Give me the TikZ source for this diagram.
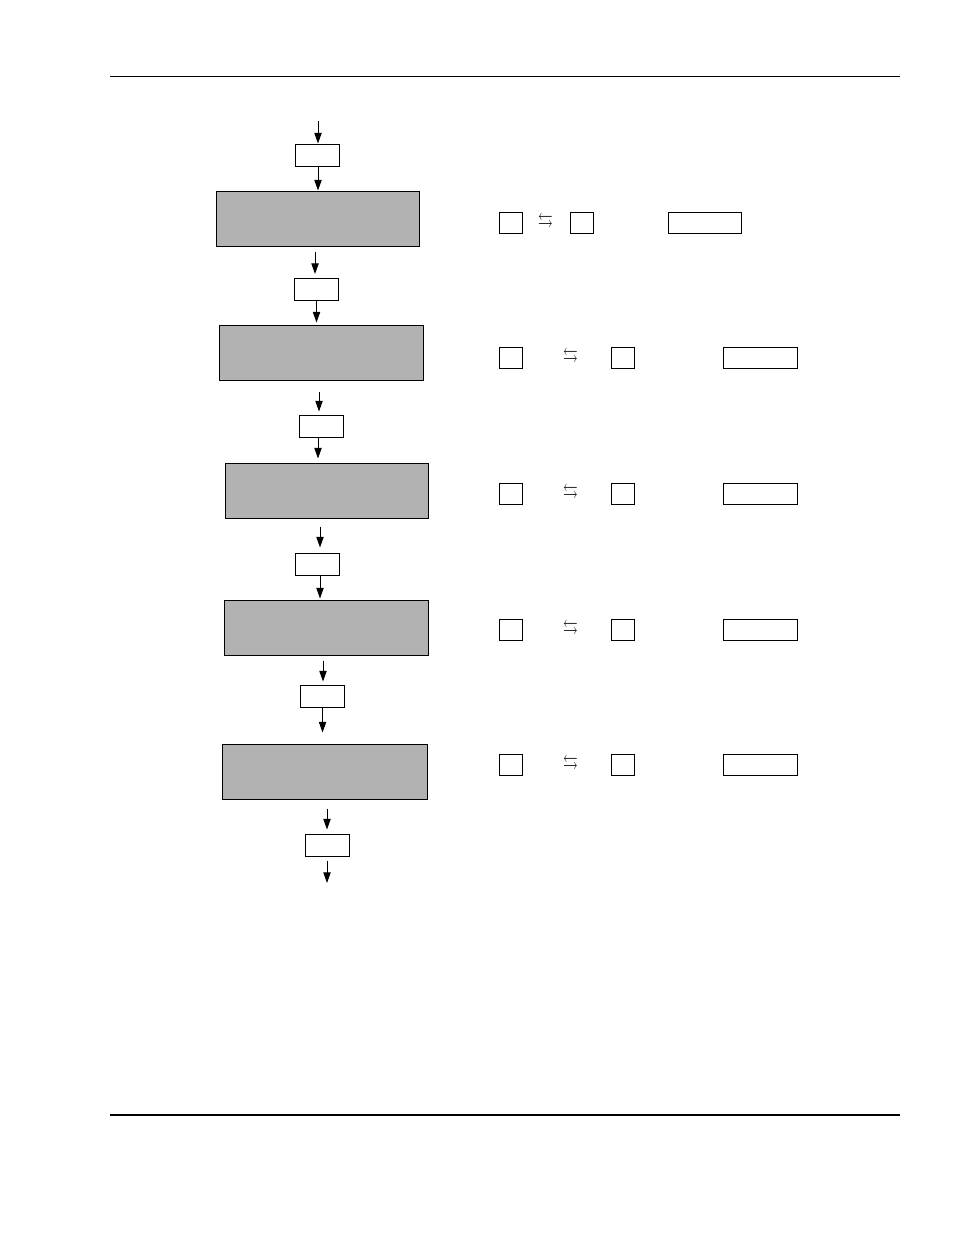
\documentclass[tikz,border=0pt]{standalone}
\usepackage{amssymb}
\usetikzlibrary{arrows.meta}
\begin{document}
\begin{tikzpicture}[x=0.75pt,y=-0.75pt,
  graybox/.style={draw,line width=0.75pt,fill=black!30,minimum width=152.5pt,minimum height=41.25pt,inner sep=0pt},
  stepbox/.style={draw,line width=0.75pt,fill=white,minimum width=33pt,minimum height=16.5pt,inner sep=0pt},
  keybox/.style={draw,line width=0.75pt,minimum width=17.25pt,minimum height=15.75pt,inner sep=0pt},
  fieldbox/.style={draw,line width=0.75pt,minimum width=55pt,minimum height=15.75pt,inner sep=0pt},
  swapsym/.style={inner sep=0pt,font=\fontsize{11}{13}\selectfont},
  arr/.style={draw,line width=0.75pt,-{Triangle[length=8pt,width=5.5pt]}},
  rule/.style={line width=0.75pt}
]
\path[fill=white,use as bounding box] (0,0) rectangle (954,1235);

% header / footer rules
\coordinate (hl) at (110,76);
\coordinate (hr) at (900,76);
\coordinate (fl) at (110,1114.5);
\coordinate (fr) at (900,1114.5);
\draw[rule] (hl) -- (hr);
\draw[line width=1.5pt] (fl) -- (fr);

% flow column
\node[stepbox] (S1) at (317,155) {};
\node[graybox,minimum width=152.25pt] (G1) at (317.5,218.5) {};
\node[stepbox] (S2) at (316.5,289.5) {};
\node[graybox,minimum width=153pt] (G2) at (321,352.5) {};
\node[stepbox] (S3) at (321,426) {};
\node[graybox,minimum width=152.25pt] (G3) at (326.5,490.5) {};
\node[stepbox] (S4) at (317,564) {};
\node[graybox,minimum width=153pt] (G4) at (326,627.5) {};
\node[stepbox] (S5) at (322,696) {};
\node[graybox,minimum width=153.75pt] (G5) at (324.5,771.5) {};
\node[stepbox] (S6) at (327,845) {};

\coordinate (in) at (318,121);
\coordinate (out) at (327,883);

\draw[arr] (in) -- (in |- S1.north);
\draw[arr] ([xshift=0.75pt]S1.south) -- ([xshift=0.75pt]S1.south |- G1.north);
\draw[arr,shorten <=3.75pt,shorten >=3pt] ([xshift=-1.1pt]S2.north |- G1.south) -- ([xshift=-1.1pt]S2.north);
\draw[arr,shorten >=1.5pt] (S2.south) -- (S2.south |- G2.north);
\draw[arr,shorten <=8.25pt,shorten >=2.25pt] ([xshift=-1.5pt]S3.north |- G2.south) -- ([xshift=-1.5pt]S3.north);
\draw[arr,shorten >=3pt] ([xshift=-2.25pt]S3.south) -- ([xshift=-2.25pt]S3.south |- G3.north);
\draw[arr,shorten <=6pt,shorten >=3.75pt] ([xshift=2.25pt]S4.north |- G3.south) -- ([xshift=2.25pt]S4.north);
\draw[arr,shorten >=0.75pt] ([xshift=2.25pt]S4.south) -- ([xshift=2.25pt]S4.south |- G4.north);
\draw[arr,shorten <=3.75pt,shorten >=2.25pt] ([xshift=0.75pt]S5.north |- G4.south) -- ([xshift=0.75pt]S5.north);
\draw[arr,shorten >=8.25pt] ([xshift=0.4pt]S5.south) -- ([xshift=0.4pt]S5.south |- G5.north);
\draw[arr,shorten <=6.75pt,shorten >=3pt] (S6.north |- G5.south) -- (S6.north);
\draw[arr,shorten <=3pt] (S6.south) -- (out);

% right-hand rows
\node[keybox] (K1a) at (510.5,222.5) {};
\node[swapsym] (W1) at (545.5,222) {\scalebox{1}[1.45]{$\leftrightarrows$}};
\node[keybox] (K1b) at (582,222.5) {};
\node[fieldbox] (F1) at (705,222.5) {};

\foreach \r/\yy in {2/357.5,3/493.5,4/629.5,5/764.5}{
  \node[keybox] (K\r a) at (510.5,\yy) {};
  \node[swapsym] (W\r) at (570.5,\yy) {\scalebox{1}[1.45]{$\leftrightarrows$}};
  \node[keybox] (K\r b) at (623,\yy) {};
  \node[fieldbox] (F\r) at (760.5,\yy) {};
}
\end{tikzpicture}
\end{document}
